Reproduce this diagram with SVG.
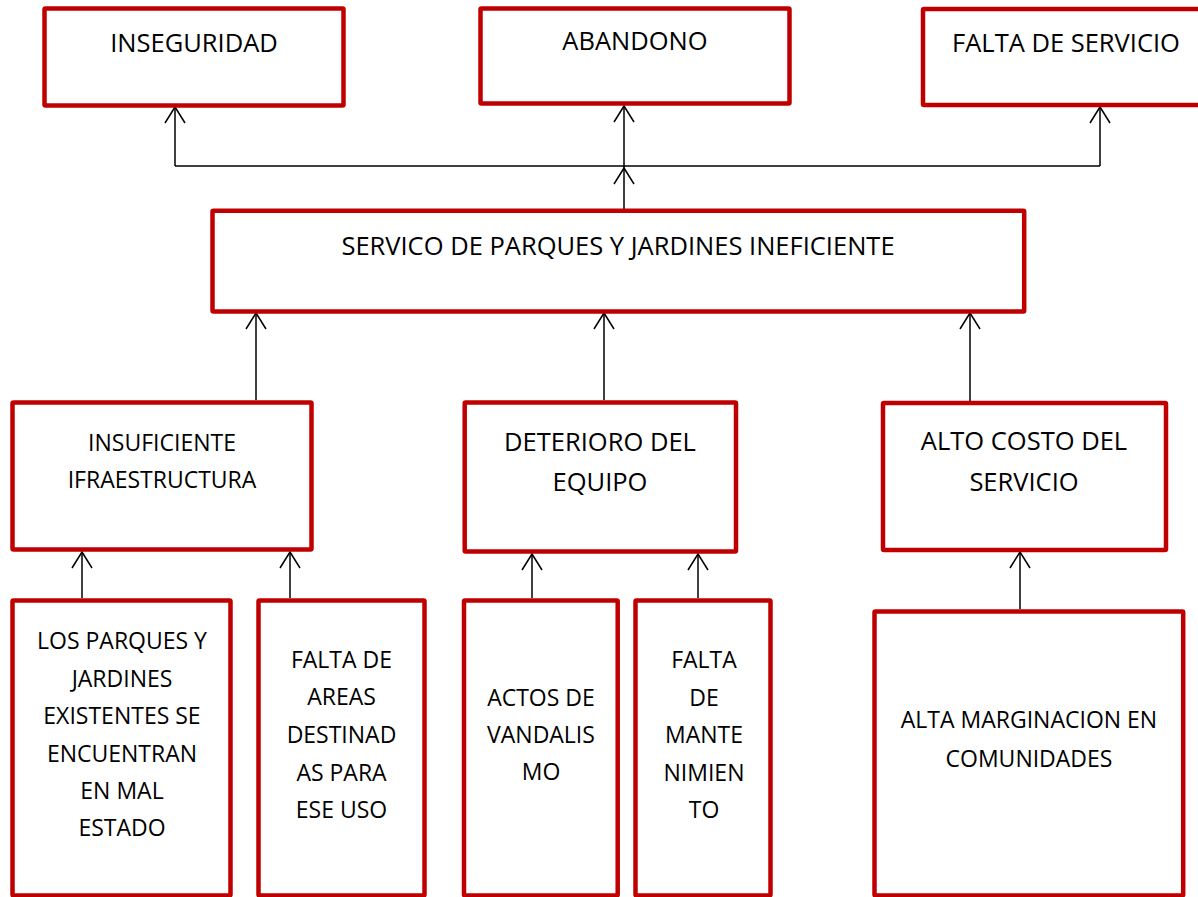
<svg xmlns="http://www.w3.org/2000/svg" width="1198" height="897" viewBox="0 0 1198 897">
<defs>
<style>
.box{fill:#fff;stroke:#C00000;stroke-width:4.5;stroke-linejoin:round}
.t{font-family:"Open Sans","Noto Sans",sans-serif;fill:#000;text-anchor:middle}
.b{font-size:25.5px}
.m{font-size:23px}
.c{stroke:#000;stroke-width:1.5;fill:none}
</style>
<marker id="arr" viewBox="-17 -11 18 22" markerWidth="18" markerHeight="22" refX="0" refY="0" markerUnits="userSpaceOnUse" orient="auto" overflow="visible">
<path d="M-16,-10 L0,0 L-16,10" fill="none" stroke="#000" stroke-width="1.5"/>
</marker>
</defs>
<rect width="1198" height="897" fill="#fff"/>
<g id="connectors">
<line class="c" x1="624" y1="209" x2="624" y2="168" marker-end="url(#arr)"/>
<line class="c" x1="624" y1="168" x2="624" y2="106" marker-end="url(#arr)"/>
<path class="c" d="M175,166 H1100"/>
<line class="c" x1="175" y1="166" x2="175" y2="107" marker-end="url(#arr)"/>
<line class="c" x1="1100" y1="166" x2="1100" y2="107" marker-end="url(#arr)"/>
<line class="c" x1="256" y1="400" x2="256" y2="313" marker-end="url(#arr)"/>
<line class="c" x1="604" y1="400" x2="604" y2="313" marker-end="url(#arr)"/>
<line class="c" x1="970" y1="401" x2="970" y2="313" marker-end="url(#arr)"/>
<line class="c" x1="82" y1="598" x2="82" y2="552" marker-end="url(#arr)"/>
<line class="c" x1="290" y1="598" x2="290" y2="552" marker-end="url(#arr)"/>
<line class="c" x1="532" y1="598" x2="532" y2="554" marker-end="url(#arr)"/>
<line class="c" x1="698" y1="598" x2="698" y2="554" marker-end="url(#arr)"/>
<line class="c" x1="1020" y1="609" x2="1020" y2="552" marker-end="url(#arr)"/>
</g>
<g id="inseguridad">
<rect class="box" x="44.5" y="8.5" width="299" height="97" rx="1"/>
<text class="t b" x="194" y="52">INSEGURIDAD</text>
</g>
<g id="abandono">
<rect class="box" x="480.5" y="8.5" width="309" height="95" rx="1"/>
<text class="t b" x="635" y="50">ABANDONO</text>
</g>
<g id="falta-servicio">
<rect class="box" x="923" y="9" width="290" height="96" rx="1"/>
<text class="t b" x="1066" y="52">FALTA DE SERVICIO</text>
</g>
<g id="servicio-ineficiente">
<rect class="box" x="212.5" y="210.8" width="811.7" height="100.7" rx="1"/>
<text class="t b" x="618" y="255">SERVICO DE PARQUES Y JARDINES INEFICIENTE</text>
</g>
<g id="insuficiente">
<rect class="box" x="12.5" y="402.5" width="299" height="147" rx="1"/>
<text class="t m" x="162" y="451">INSUFICIENTE</text>
<text class="t m" x="162" y="488">IFRAESTRUCTURA</text>
</g>
<g id="deterioro">
<rect class="box" x="464.7" y="402.5" width="271.3" height="149" rx="1"/>
<text class="t b" x="600" y="451">DETERIORO DEL</text>
<text class="t b" x="600" y="491">EQUIPO</text>
</g>
<g id="alto-costo">
<rect class="box" x="883" y="403" width="283" height="147" rx="1"/>
<text class="t b" x="1024" y="450">ALTO COSTO DEL</text>
<text class="t b" x="1024" y="491">SERVICIO</text>
</g>
<g id="mal-estado">
<rect class="box" x="12.5" y="600.5" width="218" height="295" rx="1"/>
<text class="t m" x="122" y="649">LOS PARQUES Y</text>
<text class="t m" x="122" y="687">JARDINES</text>
<text class="t m" x="122" y="724">EXISTENTES SE</text>
<text class="t m" x="122" y="762">ENCUENTRAN</text>
<text class="t m" x="122" y="799">EN MAL</text>
<text class="t m" x="122" y="836">ESTADO</text>
</g>
<g id="falta-areas">
<rect class="box" x="258.5" y="600.5" width="166" height="295" rx="1"/>
<text class="t m" x="341.5" y="668">FALTA DE</text>
<text class="t m" x="341.5" y="705">AREAS</text>
<text class="t m" x="341.5" y="743">DESTINAD</text>
<text class="t m" x="341.5" y="781">AS PARA</text>
<text class="t m" x="341.5" y="818">ESE USO</text>
</g>
<g id="vandalismo">
<rect class="box" x="464" y="600.5" width="153.7" height="295" rx="1"/>
<text class="t m" x="541" y="706">ACTOS DE</text>
<text class="t m" x="541" y="743">VANDALIS</text>
<text class="t m" x="541" y="780">MO</text>
</g>
<g id="mantenimiento">
<rect class="box" x="635.5" y="600.5" width="135" height="295" rx="1"/>
<text class="t m" x="704" y="668">FALTA</text>
<text class="t m" x="704" y="706">DE</text>
<text class="t m" x="704" y="743">MANTE</text>
<text class="t m" x="704" y="781">NIMIEN</text>
<text class="t m" x="704" y="818">TO</text>
</g>
<g id="marginacion">
<rect class="box" x="874.5" y="611.5" width="308.7" height="284" rx="1"/>
<text class="t m" x="1029" y="728">ALTA MARGINACION EN</text>
<text class="t m" x="1029" y="767">COMUNIDADES</text>
</g>
</svg>
